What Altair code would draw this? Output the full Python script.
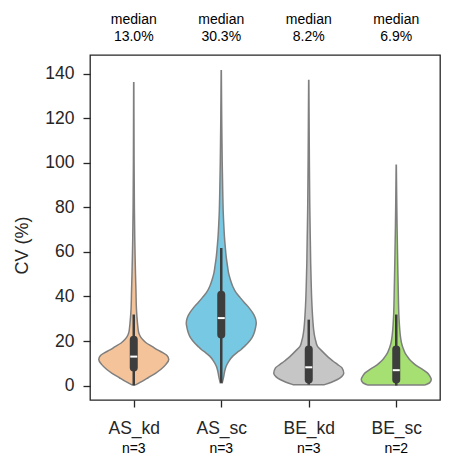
import altair as alt
import pandas as pd

# Groups, sample counts and colours
categories = ["AS_kd", "AS_sc", "BE_kd", "BE_sc"]
n_counts = [3, 3, 3, 2]
colors = ["#f4c39a", "#76c8e3", "#c6c6c6", "#a6e072"]

# Median CV (%) per group, shown above the plot
medians = [13.0, 30.3, 8.2, 6.9]

# Box summary per group (whisker low, Q1, Q3, whisker high)
whisk_lo = [0.0, 1.2, 0.4, 0.0]
q1 = [8.1, 22.9, 2.7, 2.7]
q3 = [20.6, 40.8, 16.2, 16.2]
whisk_hi = [31.9, 61.8, 29.6, 31.9]

# Density profiles (CV value, relative half-width) per group
as_kd_cv = [0.3, 2, 3.5, 5.5, 7.2, 9.5, 11.7, 13.5, 14.7, 16, 17.6, 19, 20.6, 22, 23.6,
            26, 28, 34, 42, 50, 57, 65, 80, 100, 120, 136]
as_kd_w = [0.05, 0.25, 0.41, 0.62, 0.77, 0.92, 1.0, 0.95, 0.84, 0.68, 0.52, 0.37, 0.26,
           0.19, 0.145, 0.12, 0.107, 0.078, 0.064, 0.05, 0.04, 0.03, 0.018, 0.01, 0.006, 0.003]

as_sc_cv = [1.3, 4, 6.5, 8.7, 11, 13.2, 14.8, 16.2, 17.7, 19.1, 21.5, 23.6, 26, 28.1, 30.5,
            32.6, 35, 37.1, 39.5, 41.6, 44.5, 47.6, 50.5, 53.5, 58, 62.5, 66, 70, 77.6, 85,
            92, 100, 110, 120, 130, 141.4]
as_sc_w = [0.03, 0.07, 0.1, 0.14, 0.22, 0.33, 0.45, 0.57, 0.67, 0.76, 0.88, 0.94, 0.98, 1.0,
           0.97, 0.9, 0.79, 0.67, 0.54, 0.43, 0.33, 0.26, 0.21, 0.18, 0.14, 0.114, 0.095, 0.08,
           0.057, 0.045, 0.037, 0.028, 0.02, 0.013, 0.008, 0.003]

be_kd_cv = [0.4, 1.5, 2.7, 4, 5.5, 7.9, 9.5, 10.9, 12.4, 13.9, 15.8, 17.6, 20, 22.1, 25,
            28.1, 35.6, 44.5, 55, 65, 80, 100, 120, 137]
be_kd_w = [0.45, 0.65, 0.82, 0.94, 1.0, 0.95, 0.82, 0.7, 0.58, 0.48, 0.36, 0.25, 0.2, 0.168,
           0.14, 0.122, 0.093, 0.072, 0.055, 0.045, 0.03, 0.018, 0.01, 0.003]

be_sc_cv = [0.2, 1.2, 2.7, 4.2, 5.7, 7.2, 8.7, 10.2, 11.7, 13.2, 14.7, 17, 19.1, 22, 25.1,
            28.5, 32.6, 38, 44.5, 52, 60, 70, 80, 90, 99]
be_sc_w = [0.8, 0.95, 1.0, 0.96, 0.89, 0.76, 0.6, 0.48, 0.38, 0.31, 0.25, 0.19, 0.15, 0.12,
           0.1, 0.085, 0.072, 0.063, 0.055, 0.045, 0.036, 0.025, 0.016, 0.009, 0.003]

profiles = {
    "AS_kd": (as_kd_cv, as_kd_w),
    "AS_sc": (as_sc_cv, as_sc_w),
    "BE_kd": (be_kd_cv, be_kd_w),
    "BE_sc": (be_sc_cv, be_sc_w),
}

rows = []
for i, name in enumerate(categories):
    cvs, ws = profiles[name]
    for cv, w in zip(cvs, ws):
        rows.append({"group": name, "pos": i, "cv": cv, "w": w})
dens = pd.DataFrame(rows)

summary = pd.DataFrame({
    "group": categories,
    "pos": list(range(len(categories))),
    "n": n_counts,
    "median": medians,
    "lo": whisk_lo,
    "q1": q1,
    "q3": q3,
    "hi": whisk_hi,
})

W, H = 350, 345
half = 0.4  # half of the violin width, in category units
FONT = "Liberation Sans"
INK = "#262626"

label_expr = "[" + ",".join(f"'{c}'" for c in categories) + "][datum.value]"

x_scale = alt.Scale(domain=[-0.5, 3.5], nice=False, zero=False)
y_scale = alt.Scale(domain=[-6.5, 148.5], nice=False, zero=False)

x_axis = alt.Axis(values=[0, 1, 2, 3], labelExpr=label_expr, title=None, grid=False,
                  domain=False, tickSize=7, tickWidth=1.3, tickColor=INK,
                  labelFontSize=17.5, labelColor=INK, labelPadding=12, labelFont=FONT)
y_axis = alt.Axis(values=list(range(0, 141, 20)), title="CV (%)", grid=False, domain=False,
                  tickSize=7, tickWidth=1.3, tickColor=INK, labelFontSize=17.5,
                  labelColor=INK, labelPadding=9, labelFont=FONT,
                  titleFont=FONT, titleFontSize=18, titleFontWeight="normal",
                  titleColor=INK, titleX=-68, titleY=190, titleBaseline="middle",
                  titleAlign="center")

violins = alt.Chart(dens).transform_calculate(
    xl=f"datum.pos - {half} * datum.w",
    xr=f"datum.pos + {half} * datum.w",
).mark_area(orient="horizontal", stroke="#7f7f7f", strokeWidth=1.5, interpolate="monotone",
            opacity=1).encode(
    y=alt.Y("cv:Q", scale=y_scale, axis=y_axis),
    x=alt.X("xl:Q", scale=x_scale, axis=x_axis),
    x2="xr:Q",
    color=alt.Color("group:N", scale=alt.Scale(domain=categories, range=colors), legend=None),
)

base = alt.Chart(summary)

whiskers = base.mark_rule(color="#3d3d3d", strokeWidth=2.5).encode(
    x=alt.X("pos:Q", scale=x_scale), y=alt.Y("lo:Q", scale=y_scale), y2="hi:Q"
)
boxes = base.mark_rule(color="#3d3d3d", strokeWidth=8, strokeCap="round").encode(
    x=alt.X("pos:Q", scale=x_scale), y=alt.Y("q1:Q", scale=y_scale), y2="q3:Q"
)
median_marks = base.mark_tick(orient="horizontal", color="white", thickness=2, size=7,
                              opacity=1).encode(
    x=alt.X("pos:Q", scale=x_scale), y=alt.Y("median:Q", scale=y_scale)
)

top1 = base.mark_text(fontSize=14, font=FONT, color="black", baseline="middle").encode(
    x=alt.X("pos:Q", scale=x_scale), y=alt.value(-35), text=alt.value("median")
)
top2 = base.transform_calculate(
    mtxt="format(datum.median, '.1f') + '%'"
).mark_text(fontSize=14, font=FONT, color="black", baseline="middle").encode(
    x=alt.X("pos:Q", scale=x_scale), y=alt.value(-18), text="mtxt:N"
)
ntext = base.transform_calculate(
    ntxt="'n=' + datum.n"
).mark_text(fontSize=14, font=FONT, color="black", baseline="middle").encode(
    x=alt.X("pos:Q", scale=x_scale), y=alt.value(H + 49), text="ntxt:N"
)

chart = alt.layer(violins, whiskers, boxes, median_marks, top1, top2, ntext).properties(
    width=W, height=H,
    autosize=alt.AutoSizeParams(type="none"),
    padding={"left": 90, "top": 55, "right": 14, "bottom": 72},
    background="white",
).configure_view(stroke=INK, strokeWidth=1.3)

chart.save("out.html", embed_options={"renderer": "svg", "actions": False})
